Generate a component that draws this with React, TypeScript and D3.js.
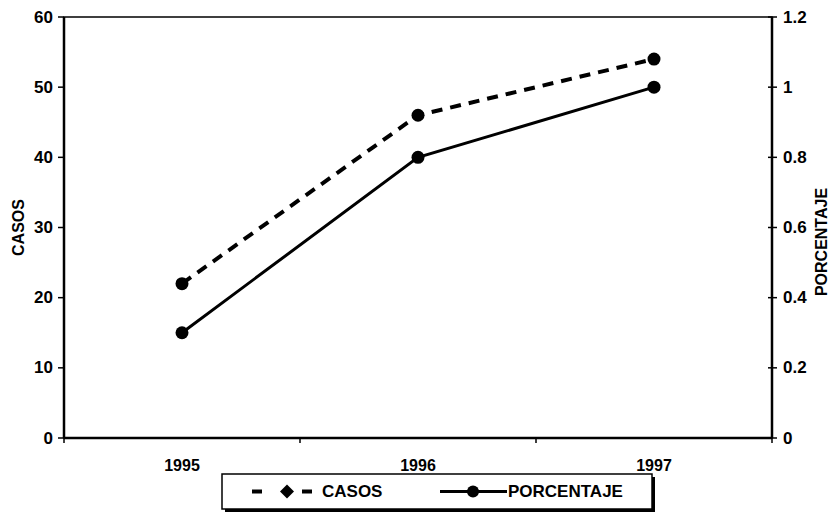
import React from "react";
import * as d3 from "d3";

const years = ["1995", "1996", "1997"];
const casos = [22, 46, 54];
const porcentaje = [0.3, 0.8, 1.0];
const leftTicks = [0, 10, 20, 30, 40, 50, 60];
const rightTicks = [0, 0.2, 0.4, 0.6, 0.8, 1, 1.2];

const W = 832;
const H = 512;
const L = 64;
const R = 772;
const T = 17;
const B = 438;
const FONT = "'Liberation Sans', Arial, sans-serif";

export default function App() {
  const x = d3.scaleBand<string>().domain(years).range([L, R]).padding(0);
  const yL = d3.scaleLinear().domain([0, 60]).range([B, T]);
  const yR = d3.scaleLinear().domain([0, 1.2]).range([B, T]);
  const cx = (d: string) => (x(d) as number) + x.bandwidth() / 2;

  const lineC = d3
    .line<number>()
    .x((_, i) => cx(years[i]))
    .y((d) => yL(d));
  const lineP = d3
    .line<number>()
    .x((_, i) => cx(years[i]))
    .y((d) => yR(d));

  const boundaries = [...years.map((d) => x(d) as number), R];

  const legX = 222;
  const legY = 474;
  const legW = 430;
  const legH = 35;
  const legMid = legY + legH / 2;

  return (
    <svg
      width={W}
      height={H}
      style={{ position: "absolute", left: 0, top: 0, background: "#fff" }}
      fontFamily={FONT}
    >
      {/* plot border */}
      <rect x={L} y={T} width={R - L} height={B - T} fill="none" stroke="#000" strokeWidth={1.5} />
      <line x1={L} x2={L} y1={T} y2={B} stroke="#000" strokeWidth={2.5} />
      <line x1={R} x2={R} y1={T} y2={B} stroke="#000" strokeWidth={2.5} />
      <line x1={L} x2={R} y1={B} y2={B} stroke="#000" strokeWidth={2.5} />

      {/* left ticks */}
      {leftTicks.map((t) => (
        <g key={"l" + t}>
          <line x1={L - 6} x2={L} y1={yL(t)} y2={yL(t)} stroke="#000" strokeWidth={1.5} />
          <text
            x={L - 11}
            y={yL(t)}
            textAnchor="end"
            dominantBaseline="central"
            fontSize={17}
            fontWeight="bold"
          >
            {t}
          </text>
        </g>
      ))}

      {/* right ticks */}
      {rightTicks.map((t) => (
        <g key={"r" + t}>
          <line x1={R - 4} x2={R + 5} y1={yR(t)} y2={yR(t)} stroke="#000" strokeWidth={1.5} />
          <text
            x={R + 11}
            y={yR(t)}
            textAnchor="start"
            dominantBaseline="central"
            fontSize={17}
            fontWeight="bold"
          >
            {d3.format("~g")(t)}
          </text>
        </g>
      ))}

      {/* x ticks */}
      {boundaries.map((b, i) => (
        <line key={"xb" + i} x1={b} x2={b} y1={B} y2={B + 5} stroke="#000" strokeWidth={1.5} />
      ))}
      {years.map((y) => (
        <text key={y} x={cx(y)} y={465} textAnchor="middle" dominantBaseline="central" fontSize={16} fontWeight="bold">
          {y}
        </text>
      ))}

      {/* axis titles */}
      <text
        transform={`translate(18, ${(T + B) / 2}) rotate(-90)`}
        textAnchor="middle"
        dominantBaseline="central"
        fontSize={16}
        fontWeight="bold"
      >
        CASOS
      </text>
      <text
        transform={`translate(821, 242) rotate(-90)`}
        textAnchor="middle"
        dominantBaseline="central"
        fontSize={16}
        fontWeight="bold"
      >
        PORCENTAJE
      </text>

      {/* series */}
      <path d={lineC(casos) || ""} fill="none" stroke="#000" strokeWidth={4} strokeDasharray="11 8" />
      <path d={lineP(porcentaje) || ""} fill="none" stroke="#000" strokeWidth={3} />
      {casos.map((v, i) => (
        <circle key={"c" + i} cx={cx(years[i])} cy={yL(v)} r={6.5} fill="#000" />
      ))}
      {porcentaje.map((v, i) => (
        <circle key={"p" + i} cx={cx(years[i])} cy={yR(v)} r={6.5} fill="#000" />
      ))}

      {/* legend */}
      <rect x={legX + 3} y={legY + 3} width={legW} height={legH} fill="#000" />
      <rect x={legX} y={legY} width={legW} height={legH} fill="#fff" stroke="#000" strokeWidth={1.5} />
      <line x1={252} x2={262} y1={legMid} y2={legMid} stroke="#000" strokeWidth={4} />
      <line x1={302} x2={312} y1={legMid} y2={legMid} stroke="#000" strokeWidth={4} />
      <path d={`M287,${legMid - 7}L294,${legMid}L287,${legMid + 7}L280,${legMid}Z`} fill="#000" />
      <text x={322} y={legMid} dominantBaseline="central" fontSize={17} fontWeight="bold">
        CASOS
      </text>
      <line x1={440} x2={507} y1={legMid} y2={legMid} stroke="#000" strokeWidth={3} />
      <circle cx={473} cy={legMid} r={6} fill="#000" />
      <text x={508} y={legMid} dominantBaseline="central" fontSize={17} fontWeight="bold">
        PORCENTAJE
      </text>
    </svg>
  );
}
